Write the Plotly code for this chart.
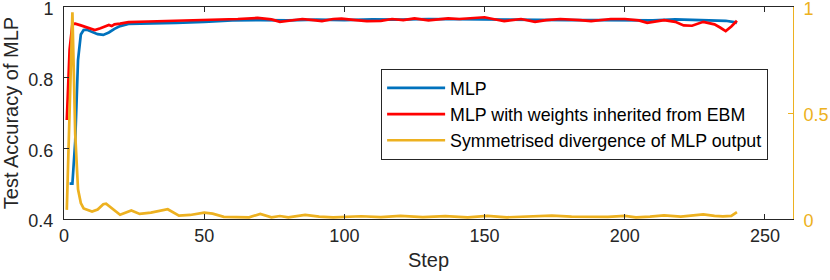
import plotly.graph_objects as go

# ---- data ----
mlp_steps = [2, 3, 4, 5, 6, 7, 8, 10, 12, 14, 16, 18, 20, 23, 30, 40, 50, 60, 70, 80,
             90, 100, 110, 120, 130, 140, 150, 160, 170, 180, 190, 200, 210, 218,
             225, 232, 236, 239, 240]
mlp_acc = [0.50, 0.50, 0.62, 0.85, 0.922, 0.935, 0.936, 0.93, 0.923, 0.921, 0.928,
           0.938, 0.946, 0.952, 0.953, 0.955, 0.958, 0.962, 0.963, 0.962, 0.964,
           0.963, 0.965, 0.964, 0.966, 0.965, 0.966, 0.965, 0.964, 0.963, 0.963,
           0.962, 0.962, 0.965, 0.964, 0.963, 0.961, 0.957, 0.955]

ebm_steps = [1, 2, 3, 4, 6, 8, 10, 11, 13, 15, 16, 17, 18, 20, 23, 30, 40, 48, 55,
             62, 69, 74, 77, 81, 85, 89, 92, 96, 99, 104, 108, 113, 117, 121, 125,
             130, 134, 137, 141, 145, 150, 153, 157, 163, 168, 172, 177, 184, 188,
             195, 200, 205, 208, 214, 218, 221, 224, 228, 232, 234, 236, 238, 240]
ebm_acc = [0.68, 0.88, 0.952, 0.953, 0.948, 0.942, 0.936, 0.935, 0.94, 0.945, 0.949,
           0.946, 0.951, 0.953, 0.957, 0.959, 0.961, 0.962, 0.964, 0.966, 0.969,
           0.965, 0.958, 0.963, 0.966, 0.963, 0.960, 0.966, 0.967, 0.963, 0.960,
           0.961, 0.966, 0.963, 0.968, 0.962, 0.966, 0.968, 0.966, 0.969, 0.971,
           0.966, 0.960, 0.966, 0.958, 0.963, 0.966, 0.963, 0.960, 0.966, 0.966,
           0.962, 0.955, 0.963, 0.958, 0.948, 0.947, 0.958, 0.951, 0.942, 0.932,
           0.945, 0.961]

div_steps = [1, 2, 3, 4, 5, 6, 7, 8, 10, 12, 14, 15, 17, 20, 24, 27, 31, 36, 37, 41,
             45, 50, 53, 57, 66, 70, 74, 77, 80, 86, 91, 96, 106, 113, 120, 128, 136,
             144, 151, 158, 166, 174, 181, 188, 194, 200, 204, 209, 214, 220, 224,
             228, 232, 235, 238, 240]
div_val = [0.043, 0.55, 0.975, 0.40, 0.14, 0.075, 0.05, 0.045, 0.035, 0.045, 0.07,
           0.072, 0.05, 0.02, 0.04, 0.024, 0.03, 0.044, 0.046, 0.016, 0.019, 0.03,
           0.025, 0.01, 0.008, 0.024, 0.008, 0.014, 0.008, 0.019, 0.011, 0.008,
           0.013, 0.009, 0.015, 0.009, 0.014, 0.008, 0.015, 0.008, 0.011, 0.016,
           0.011, 0.012, 0.01, 0.015, 0.008, 0.011, 0.017, 0.011, 0.015, 0.022,
           0.015, 0.012, 0.015, 0.032]

x_ticks = [0, 50, 100, 150, 200, 250]
y_ticks = [0.4, 0.6, 0.8, 1.0]
y_ticktext = ["0.4", "0.6", "0.8", "1"]
y2_ticks = [0, 0.5, 1]
y2_ticktext = ["0", "0.5", "1"]

BLUE = "#0072BD"
RED = "#FF0000"
YEL = "#EDB120"
AX = "#262626"
FONT = "Liberation Sans, Arial, sans-serif"

fig = go.Figure()
fig.add_trace(go.Scatter(x=mlp_steps, y=mlp_acc, mode="lines", name="MLP",
                         line=dict(color=BLUE, width=2.7)))
fig.add_trace(go.Scatter(x=ebm_steps, y=ebm_acc, mode="lines",
                         name="MLP with weights inherited from EBM",
                         line=dict(color=RED, width=2.7)))
fig.add_trace(go.Scatter(x=div_steps, y=div_val, mode="lines",
                         name="Symmetrised divergence of MLP output",
                         line=dict(color=YEL, width=2.7), yaxis="y2"))

fig.update_layout(
    width=830, height=280,
    margin=dict(l=64, r=37, t=7, b=61, autoexpand=False),
    paper_bgcolor="white", plot_bgcolor="white",
    font=dict(family=FONT, size=18, color=AX),
    showlegend=True,
    legend=dict(x=0.435, y=0.708, xanchor="left", yanchor="top",
                bgcolor="white", bordercolor=AX, borderwidth=1,
                font=dict(family=FONT, size=17.8, color="black"),
                itemwidth=58),
    xaxis=dict(range=[0, 260], tickvals=x_ticks, ticks="inside", ticklen=5,
               tickcolor=AX, showline=True, linecolor=AX, linewidth=1,
               mirror="ticks", showgrid=False, zeroline=False, automargin=False,
               title=dict(text="Step", font=dict(size=20, color=AX), standoff=8),
               tickfont=dict(size=18, color=AX), ticklabeloverflow="allow"),
    yaxis=dict(range=[0.4, 1.0], tickvals=y_ticks, ticktext=y_ticktext,
               ticks="inside", ticklen=5, tickcolor=AX, showline=True,
               linecolor=AX, linewidth=1, showgrid=False, zeroline=False,
               ticklabelstandoff=6, ticklabelshift=2, automargin=False,
               ticklabeloverflow="allow",
               title=dict(text="Test Accuracy of MLP", font=dict(size=20, color=AX),
                          standoff=6),
               tickfont=dict(size=18, color=AX)),
    yaxis2=dict(range=[0, 1.0], tickvals=y2_ticks, ticktext=y2_ticktext,
                overlaying="y", side="right", ticks="inside", ticklen=5,
                tickcolor=YEL, showline=True, linecolor=YEL, linewidth=1,
                showgrid=False, zeroline=False, ticklabelstandoff=6,
                ticklabelshift=2, automargin=False, ticklabeloverflow="allow",
                tickfont=dict(size=18, color=YEL)),
)

fig.write_html("out.html", config={"displayModeBar": False},
               post_script="document.body.style.margin='0';document.body.style.padding='0';")
